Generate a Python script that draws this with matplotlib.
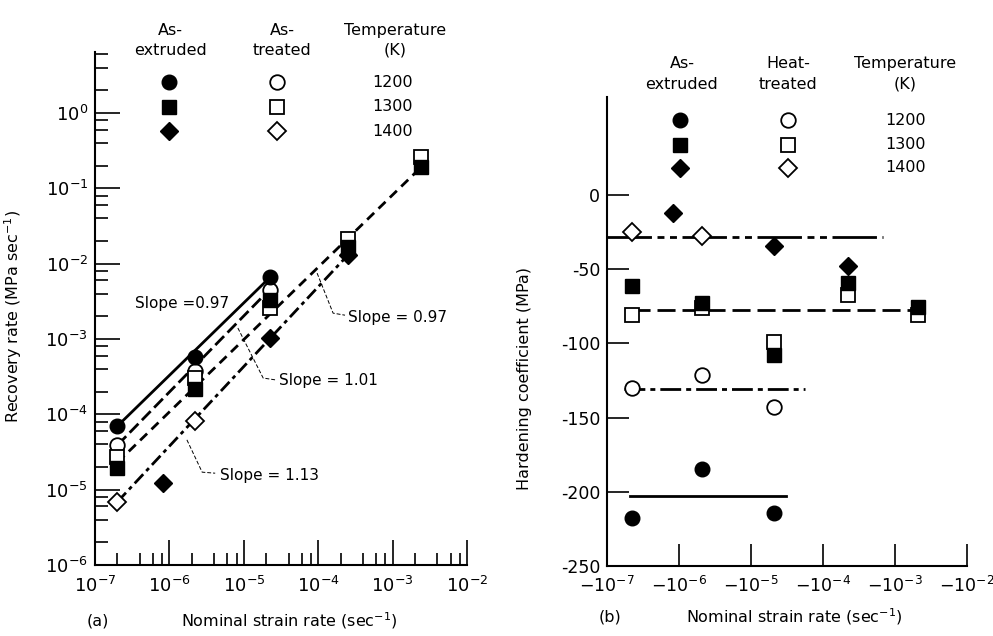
import matplotlib
matplotlib.use("Agg")
import matplotlib.pyplot as plt
from matplotlib.ticker import LogLocator, FixedLocator, FuncFormatter, NullLocator
import numpy as np

plt.rcParams['font.family'] = ['DejaVu Sans']
plt.rcParams['axes.unicode_minus'] = False

# ---------------- data, panel (a): recovery rate ----------------
temps = ['1200', '1300', '1400']
marks = ['o', 's', 'D']

a_x_circ = [2.0e-7, 2.2e-6, 2.25e-5]
a_ext_circ = [7.0e-5, 5.8e-4, 6.6e-3]
a_trt_circ = [3.9e-5, 3.8e-4, 4.5e-3]
a_x_sq = [2.0e-7, 2.2e-6, 2.25e-5, 2.5e-4, 2.4e-3]
a_ext_sq = [1.95e-5, 2.2e-4, 3.3e-3, 1.65e-2, 0.19]
a_trt_sq = [2.7e-5, 3.0e-4, 2.6e-3, 2.1e-2, 0.26]
a_x_dia_ext = [8.2e-7, 2.25e-5, 2.5e-4]
a_ext_dia = [1.23e-5, 1.03e-3, 1.3e-2]
a_x_dia_trt = [2.0e-7, 2.2e-6]
a_trt_dia = [6.9e-6, 8.1e-5]

# fitted lines (start/end points)
a_fit_x = [[2e-7, 2.25e-5], [2e-7, 2.25e-5], [2e-7, 2.4e-3], [2e-7, 2.5e-4]]
a_fit_y = [[7e-5, 6.6e-3], [3.9e-5, 4.6e-3], [2.3e-5, 0.19], [6.9e-6, 1.3e-2]]
a_slopes = ['Slope =0.97', 'Slope = 1.01', 'Slope = 0.97', 'Slope = 1.13']

# ---------------- data, panel (b): hardening coefficient ----------------
b_x_circ = [2.2e-7, 2.1e-6, 2.1e-5]
b_ext_circ = [-217.7, -184.6, -214.3]
b_trt_circ = [-130.0, -121.0, -143.0]
b_x_sq = [2.2e-7, 2.1e-6, 2.1e-5, 2.2e-4, 2.1e-3]
b_ext_sq = [-61.3, -72.8, -107.8, -59.3, -75.5]
b_trt_sq = [-80.9, -76.0, -99.0, -67.4, -80.9]
b_x_dia_ext = [8.3e-7, 2.1e-5, 2.2e-4]
b_ext_dia = [-12.1, -34.4, -47.8]
b_x_dia_trt = [2.2e-7, 2.1e-6]
b_trt_dia = [-24.9, -27.6]

b_mean = [-28.3, -77.5, -130.5, -202.8]
b_mean_x = [[1e-7, 6.8e-4], [2.2e-7, 2.1e-3], [1.7e-7, 5.6e-5], [2.1e-7, 3.1e-5]]

# ---------------- styles ----------------
ms = {'o': 10.5, 's': 9.5, 'D': 9.5}
lw = 2.0
a_styles = ['-', (0, (4.5, 1.8)), (0, (3.5, 2.2)), (0, (4.5, 1.6, 1.4, 1.6))]
b_styles = [(0, (16, 2.0, 2.5, 2.0, 2.5, 2.0)), (0, (6.5, 2.5)),
            (0, (7.5, 1.8, 1.8, 1.8)), '-']
FS = 11.5


def pts(ax, x, y, m, filled, **kw):
    if filled:
        ax.plot(x, y, ls='none', marker=m, ms=ms[m], mfc='black', mec='black',
                zorder=5, clip_on=False, **kw)
    else:
        ax.plot(x, y, ls='none', marker=m, ms=ms[m], mfc='white', mec='black',
                mew=1.3, zorder=4, clip_on=False, **kw)


def legend_table(ax, hx, hy, headers, rows_y, mx):
    for x, h in zip(hx, headers):
        ax.text(x, hy, h, transform=ax.transAxes, ha='center', va='center',
                fontsize=FS, linespacing=1.45, clip_on=False)
    for i, m in enumerate(marks):
        pts(ax, [mx[0]], [rows_y[i]], m, True, transform=ax.transAxes)
        pts(ax, [mx[1]], [rows_y[i]], m, False, transform=ax.transAxes)
        ax.text(mx[2], rows_y[i], temps[i], transform=ax.transAxes,
                ha='center', va='center', fontsize=FS)


def style_axes(ax):
    for s in ['top', 'right']:
        ax.spines[s].set_visible(False)
    for s in ['left', 'bottom']:
        ax.spines[s].set_linewidth(1.5)
    ax.set_facecolor('white')


fig = plt.figure(figsize=(9.93, 6.36), dpi=100)

# ================= panel (a) =================
ax1 = fig.add_axes([0.0957, 0.1116, 0.3746, 0.8066])
style_axes(ax1)
ax1.set_xscale('log')
ax1.set_yscale('log')
ax1.set_xlim(1e-7, 1e-2)
ax1.set_ylim(1e-6, 10 ** 0.81)

for fx, fy, st in zip(a_fit_x, a_fit_y, a_styles):
    ax1.plot(fx, fy, color='black', lw=lw, ls=st, zorder=3)

pts(ax1, a_x_circ, a_trt_circ, 'o', False)
pts(ax1, a_x_sq, a_trt_sq, 's', False)
pts(ax1, a_x_dia_trt, a_trt_dia, 'D', False)
pts(ax1, a_x_circ, a_ext_circ, 'o', True)
pts(ax1, a_x_sq, a_ext_sq, 's', True)
pts(ax1, a_x_dia_ext, a_ext_dia, 'D', True)

ax1.xaxis.set_major_locator(LogLocator(base=10, numticks=10))
ax1.xaxis.set_minor_locator(LogLocator(base=10, subs=(2, 4, 6, 8), numticks=10))
ax1.yaxis.set_major_locator(LogLocator(base=10, numticks=10))
ax1.yaxis.set_minor_locator(LogLocator(base=10, subs=(2, 4, 6, 8), numticks=10))
ax1.tick_params(which='major', direction='in', length=18, width=1.2, labelsize=13)
ax1.tick_params(which='minor', direction='in', length=9, width=1.2,
                labelleft=False, labelbottom=False)
ax1.tick_params(axis='x', which='major', pad=8)
ax1.tick_params(axis='y', which='major', pad=5)

ax1.set_ylabel('Recovery rate (MPa sec$^{-1}$)', fontsize=FS)
ax1.yaxis.set_label_coords(-0.19, 0.485)

# slope labels with leaders (axes fraction)
slope_pos = [(0.1075, 0.509), (0.495, 0.359), (0.680, 0.483), (0.336, 0.175)]
leaders = [None,
           [(0.384, 0.462), (0.452, 0.3645), (0.484, 0.361)],
           [(0.597, 0.569), (0.640, 0.491), (0.672, 0.487)],
           [(0.247, 0.244), (0.288, 0.181), (0.323, 0.179)]]
for lab, (tx, ty), ld in zip(a_slopes, slope_pos, leaders):
    ax1.text(tx, ty, lab, transform=ax1.transAxes, ha='left', va='center',
             fontsize=11)
    if ld is not None:
        lx, ly = zip(*ld)
        ax1.plot(lx, ly, transform=ax1.transAxes, color='black', lw=0.7,
                 ls=(0, (4, 2)))

legend_table(ax1, [0.2016, 0.503, 0.806], 1.023,
             ['As-\nextruded', 'As-\ntreated', 'Temperature\n(K)'],
             [0.9415, 0.893, 0.846], [0.199, 0.489, 0.801])

fig.text(0.291, 0.024, 'Nominal strain rate (sec$^{-1}$)', ha='center',
         va='center', fontsize=FS)
fig.text(0.0987, 0.024, '(a)', ha='center', va='center', fontsize=FS)

# ================= panel (b) =================
ax2 = fig.add_axes([0.6113, 0.11, 0.3625, 0.7374])
style_axes(ax2)
ax2.set_xscale('log')
ax2.set_xlim(1e-7, 1e-2)
ax2.set_ylim(-250, 66)

for mx, my, st in zip(b_mean_x, b_mean, b_styles):
    ax2.plot(mx, [my, my], color='black', lw=lw, ls=st, zorder=3)

pts(ax2, b_x_circ, b_trt_circ, 'o', False)
pts(ax2, b_x_sq, b_trt_sq, 's', False)
pts(ax2, b_x_dia_trt, b_trt_dia, 'D', False)
pts(ax2, b_x_circ, b_ext_circ, 'o', True)
pts(ax2, b_x_sq, b_ext_sq, 's', True)
pts(ax2, b_x_dia_ext, b_ext_dia, 'D', True)

ax2.xaxis.set_major_locator(LogLocator(base=10, numticks=10))
ax2.xaxis.set_minor_locator(NullLocator())
ax2.xaxis.set_major_formatter(
    FuncFormatter(lambda v, p: r'$-10^{%d}$' % round(np.log10(v))))
ax2.yaxis.set_major_locator(FixedLocator([0, -50, -100, -150, -200, -250]))
ax2.tick_params(which='major', direction='in', length=16, width=1.2, labelsize=12.5)
ax2.tick_params(axis='x', pad=7)
ax2.tick_params(axis='y', pad=5)

ax2.set_ylabel('Hardening coefficient (MPa)', fontsize=FS)
ax2.yaxis.set_label_coords(-0.208, 0.40)

legend_table(ax2, [0.208, 0.503, 0.828], 1.049,
             ['As-\nextruded', 'Heat-\ntreated', 'Temperature\n(K)'],
             [0.951, 0.898, 0.849], [0.203, 0.503, 0.828])

fig.text(0.7996, 0.0300, 'Nominal strain rate (sec$^{-1}$)', ha='center',
         va='center', fontsize=FS)
fig.text(0.614, 0.0300, '(b)', ha='center', va='center', fontsize=FS)

fig.savefig('out.png', dpi=100, facecolor='white')
